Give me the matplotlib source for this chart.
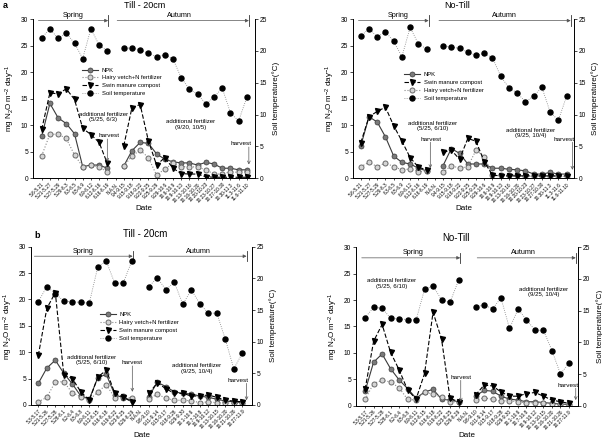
import numpy as np
import matplotlib
matplotlib.use("Agg")
import matplotlib.pyplot as plt

plt.rcParams['font.family'] = ['Liberation Sans', 'DejaVu Sans']
plt.rcParams['mathtext.default'] = 'regular'

nan = np.nan

# x labels
dates_a = ["5.6-5.21", "5.21-5.27", "5.27-5.29", "5.29-6.3", "6.3-6.5", "6.5-6.9",
           "6.9-6.12", "6.12-6.16", "6.16-6.19", "N.A.N.", "9.4-9.15", "9.15-9.18",
           "9.18-9.22", "9.22-9.25", "9.25-9.29", "9.29-10.6", "10.6-10.9", "10.9-10.13",
           "10.13-10.16", "10.16-10.20", "10.20-10.23", "10.23-10.27", "10.27-10.30",
           "10.30-11.3", "11.3-11.6", "11.6-11.10"]
dates_b = ["5.3-5.17", "5.21-5.26", "5.27-5.28", "5.28-6.1", "6.2-6.4", "6.5-6.8",
           "6.9-6.11", "6.12-6.15", "6.16-6.18", "6.19-6.22", "6.23-6.25", "6.26-6.29",
           "N.A.N.", "9.8-9.10", "9.11-9.14", "9.15-9.17", "9.18-9.28", "9.29-9.30",
           "10.1-10.6", "10.7-10.8", "10.9-10.12", "10.13-10.15", "10.16-10.20",
           "10.21-10.26", "10.27-11.9"]

# a: Till - 20cm (top left)
npk_a = [7.9, 14.1, 11.4, 10.3, 8.4, 2.2, 2.5, 2.5, 1.9, nan, 2.3, 5.2, 6.75, 6.6, 4.6, 3.6,
         3.1, 2.9, 2.9, 2.5, 3.0, 2.7, 1.9, 1.9, 1.6, 1.6]
hairy_a = [4.25, 8.3, 8.3, 7.5, 4.4, 2.2, 2.5, 2.1, 1.2, nan, 2.3, 4.2, 5.3, 3.9, 0.6, 1.75,
           2.8, 2.2, 2.2, 2.1, 1.6, 0.8, 0.8, 1.25, 1.1, 1.25]
swine_a = [9.2, 16.1, 15.9, 16.85, 14.85, 9.4, 8.25, 6.75, 2.8, nan, 6.1, 13.3, 13.9, 7.1,
           2.5, 3.9, 1.9, 0.9, 0.8, 0.8, 0.3, 0.2, 0.2, 0.2, 0.2, 0.2]
temp_a = [22.1, 23.4, 22.0, 22.8, 21.2, 18.8, 23.5, 20.9, 20.0, nan, 20.5, 20.4, 20.2, 19.6,
          19.1, 19.4, 18.75, 15.8, 14.0, 13.2, 11.7, 12.7, 14.2, 10.3, 9.0, 12.7]

# a: No-Till (top right)
npk_c = [6.1, 11.6, 10.6, 7.8, 4.2, 3.0, 2.7, 1.9, 1.4, nan, 2.4, 5.6, 4.7, 2.7, 2.7, 2.7,
         1.9, 1.9, 1.7, 1.6, 1.4, 0.8, 0.8, 1.1, 0.8, 0.8]
swine_c = [6.7, 11.6, 12.6, 13.4, 9.9, 7.0, 3.9, 2.1, 1.6, nan, 4.9, 5.3, 3.6, 7.5, 7.0, 3.1,
           0.6, 0.45, 0.45, 0.45, 0.45, 0.45, 0.45, 0.45, 0.45, 0.45]
hairy_c = [2.2, 3.0, 2.2, 2.9, 2.2, 1.6, 1.75, 1.25, 1.4, nan, 1.1, 2.4, 1.9, 2.2, 5.3, 4.1,
           0.6, 0.6, 0.6, 0.6, 0.4, 0.4, 0.4, 0.4, 0.4, 0.4]
temp_c = [22.3, 23.5, 22.2, 23.0, 21.5, 19.1, 23.7, 21.1, 20.3, nan, 20.8, 20.6, 20.4, 19.8,
          19.3, 19.6, 18.95, 16.0, 14.2, 13.4, 12.0, 12.9, 14.3, 10.4, 9.1, 12.9]

# b: Till - 20cm (bottom left)
npk_b = [4.1, 7.0, 8.5, 6.0, 4.0, 1.7, 1.1, 5.2, 5.8, 1.9, 1.4, 0.9, nan, 1.6, 4.3, 3.5, 2.5,
         2.2, 2.1, 1.7, 1.45, 1.1, 0.75, 0.6, 0.45]
hairy_b = [0.6, 1.45, 4.4, 4.4, 2.3, 1.6, 0.9, 2.5, 3.8, 1.4, 1.7, 1.25, nan, 1.1, 2.1, 1.25,
           0.9, 0.9, 0.8, 0.45, 0.6, 0.45, 0.45, 0.3, 0.3]
swine_b = [9.4, 18.3, 21.3, 5.7, 5.0, 2.5, 0.9, 5.3, 6.6, 2.2, 1.45, 0.6, nan, 2.2, 4.2, 3.1,
           2.2, 2.2, 1.7, 1.7, 1.9, 1.45, 0.9, 0.75, 0.6]
temp_b = [16.3, 18.7, 17.6, 16.4, 16.3, 16.2, 16.1, 21.8, 22.7, 19.2, 19.3, 22.75, nan, 18.7,
          20.1, 18.2, 19.4, 15.9, 18.2, 16.0, 14.5, 14.5, 10.4, 5.7, 8.2]

# b: No-Till (bottom right)
npk_d = [2.75, 8.25, 9.8, 7.0, 4.9, 3.25, 1.4, 2.6, 3.1, 1.25, 1.06, 0.75, nan, 1.8, 2.9,
         2.75, 1.8, 1.25, 1.06, 0.75, 0.75, 0.6, 0.45, 0.3, 0.25]
hairy_d = [1.2, 4.2, 4.8, 4.5, 3.4, 1.2, 1.06, 2.6, 2.2, 1.6, 0.75, 0.75, nan, 1.06, 1.5, 1.2,
           0.9, 0.94, 0.75, 0.56, 0.56, 0.6, 0.3, 0.25, 0.1]
swine_d = [3.1, 12.2, 15.4, 10.1, 6.8, 3.0, 1.25, 6.1, 17.7, 12.6, 1.4, 0.75, nan, 2.0, 3.9,
           3.75, 2.6, 1.8, 1.8, 2.3, 2.5, 1.8, 1.06, 0.75, 0.45]
temp_d = [13.9, 15.5, 15.4, 13.8, 13.7, 13.6, 13.5, 18.4, 18.9, 16.7, 16.3, 19.8, nan, 15.6,
          15.9, 15.3, 17.0, 12.2, 15.2, 13.6, 11.9, 11.9, 8.7, 5.0, 6.7]

LBL_NPK = "NPK"
LBL_HV = "Hairy vetch+N fertilizer"
LBL_SW = "Swin manure compost"
LBL_T = "Soil temperature"

panels = [
    dict(pos=[0.0548, 0.5975, 0.3688, 0.3595], dates=dates_a, xlim=(-0.06, 27.0),
         npk=npk_a, hairy=hairy_a, swine=swine_a, temp=temp_a,
         legend=[LBL_NPK, LBL_HV, LBL_SW, LBL_T], leg_at=(0.21, 0.71),
         arrow_y=29.7, spring=(0.6, 9.1, 4.85), autumn=(10.2, 26.25, 17.8),
         fert=[(8.5, 11.6, "additional fertilizer\n(5/25, 6/3)", "center"),
               (19.2, 10.15, "additional fertilizer\n(9/20, 10/5)", "center")],
         harvest=[(9.27, 8.0, 9.0, 7.4, 3.1), (25.3, 6.6, 26.25, 5.9, 2.6)]),
    dict(pos=[0.5864, 0.5975, 0.3671, 0.3595], dates=dates_a, xlim=(0.06, 26.9),
         npk=npk_c, hairy=hairy_c, swine=swine_c, temp=temp_c,
         legend=[LBL_NPK, LBL_SW, LBL_HV, LBL_T], leg_at=(0.22, 0.68),
         arrow_y=29.7, spring=(0.72, 9.25, 5.6), autumn=(10.5, 26.5, 18.4),
         fert=[(6.7, 9.9, "additional fertilizer\n(5/25, 6/10)", "left"),
               (21.6, 8.5, "additional fertilizer\n(9/25, 10/4)", "center")],
         harvest=[(9.5, 7.3, 9.45, 6.8, 1.9), (25.7, 7.3, 26.7, 6.8, 1.6)]),
    dict(pos=[0.0515, 0.0858, 0.3671, 0.3573], dates=dates_b, xlim=(0.14, 26.14),
         npk=npk_b, hairy=hairy_b, swine=swine_b, temp=temp_b,
         legend=[LBL_NPK, LBL_HV, LBL_SW, LBL_T], leg_at=(0.30, 0.60),
         arrow_y=28.2, spring=(0.53, 12.1, 6.3), autumn=(14.0, 25.5, 19.8),
         fert=[(7.3, 8.5, "additional fertilizer\n(5/25, 6/10)", "center"),
               (19.6, 6.9, "additional fertilizer\n(9/25, 10/4)", "center")],
         harvest=[(12.05, 8.0, 12.06, 7.4, 2.5), (24.5, 4.7, 25.5, 4.1, 0.9)]),
    dict(pos=[0.5914, 0.0842, 0.3688, 0.3576], dates=dates_b, xlim=(-0.07, 26.07),
         npk=npk_d, hairy=hairy_d, swine=swine_d, temp=temp_d,
         legend=None, leg_at=None,
         arrow_y=28.0, spring=(0.6, 12.2, 6.65), autumn=(14.2, 25.8, 19.6),
         fert=[(1.28, 23.15, "additional fertilizer\n(5/25, 6/10)", "left"),
               (22.0, 21.55, "additional fertilizer\n(9/25, 10/4)", "center")],
         harvest=[(12.3, 5.4, 12.26, 4.8, 0.75), (24.9, 3.9, 25.8, 3.3, 1.06)]),
]

fig = plt.figure(figsize=(6.02, 4.43), dpi=100)

for p in panels:
    ax = fig.add_axes(p["pos"])
    ax2 = ax.twinx()
    x = np.arange(1, len(p["dates"]) + 1)

    h_npk, = ax.plot(x, p["npk"], '-', color='#3a3a3a', lw=0.8, marker='o', ms=3.6,
                     mfc='#7a7a7a', mec='#3a3a3a', mew=0.5, label=LBL_NPK)
    h_hv, = ax.plot(x, p["hairy"], ':', color='#8a8a8a', lw=0.8, marker='o', ms=3.6,
                    mfc='#d4d4d4', mec='#6a6a6a', mew=0.7, label=LBL_HV)
    h_sw, = ax.plot(x, p["swine"], '--', color='black', lw=0.8, dashes=(4, 1.8),
                    marker='v', ms=3.6, mfc='black', mec='black', label=LBL_SW)
    h_t, = ax2.plot(x, p["temp"], ':', color='#808080', lw=0.6, marker='o', ms=3.6,
                    mfc='black', mec='black', label=LBL_T)

    ax.set_xlim(*p["xlim"])
    ax.set_ylim(0, 30)
    ax2.set_ylim(0, 25)
    ax.set_yticks(range(0, 31, 5))
    ax2.set_yticks(range(0, 26, 5))
    ax.set_xticks(x)
    ax.set_xticklabels(p["dates"], rotation=45, ha='right', rotation_mode='anchor',
                       fontsize=3.4)
    for a in (ax, ax2):
        a.spines['top'].set_visible(False)
        for s in a.spines.values():
            s.set_linewidth(0.6)
        a.tick_params(axis='y', labelsize=4.8, length=2, width=0.5, pad=1.5)
    ax.tick_params(axis='x', length=1.5, width=0.5, pad=1)

    ax.set_ylabel("mg N$_2$O m$^{-2}$ day$^{-1}$", fontsize=5.8, labelpad=3)
    ax2.set_ylabel("Soil temperature(°C)", fontsize=5.8, labelpad=4)
    ax.set_xlabel("Date", fontsize=5.8, labelpad=1)

    # season arrows
    y0 = p["arrow_y"]
    for (xs, xe, xt), name in ((p["spring"], "Spring"), (p["autumn"], "Autumn")):
        ax.annotate("", xy=(xe, y0), xytext=(xs, y0),
                    arrowprops=dict(arrowstyle='-|>', lw=0.5, color='#555555',
                                    mutation_scale=5, shrinkA=0, shrinkB=0))
        ax.plot([xe, xe], [y0 - 1.0, y0 + 1.0], color='#333333', lw=0.6, clip_on=False)
        ax.text(xt, y0 + 0.3, name, fontsize=5.2, ha='center', va='bottom')

    for xf, yf, txt, al in p["fert"]:
        ax.text(xf, yf, txt, fontsize=4.4, ha=al, va='center', multialignment='center',
                linespacing=1.1)

    for xt, yt, xa, ya0, ya1 in p["harvest"]:
        ax.text(xt, yt, "harvest", fontsize=4.6, ha='center', va='center')
        ax.annotate("", xy=(xa, ya1), xytext=(xa, ya0),
                    arrowprops=dict(arrowstyle='->', lw=0.5, color='#555555',
                                    mutation_scale=5, shrinkA=0, shrinkB=0))

    if p["legend"]:
        hmap = {LBL_NPK: h_npk, LBL_HV: h_hv, LBL_SW: h_sw, LBL_T: h_t}
        ax.legend([hmap[k] for k in p["legend"]], p["legend"], loc='upper left',
                  bbox_to_anchor=p["leg_at"], frameon=False, fontsize=4.2,
                  handlelength=2.8, labelspacing=0.45, borderaxespad=0,
                  handletextpad=0.6)

fig.text(0.005, 0.998, "a", fontsize=6.5, fontweight='bold', ha='left', va='top')
fig.text(0.24, 0.998, "Till - 20cm", fontsize=6.5, ha='center', va='top')
fig.text(0.76, 0.998, "No-Till", fontsize=6.5, ha='center', va='top')
fig.text(0.061, 0.468, "b", fontsize=6.5, fontweight='bold', ha='center', va='center')
fig.text(0.241, 0.472, "Till - 20cm", fontsize=7, ha='center', va='center')
fig.text(0.757, 0.463, "No-Till", fontsize=7, ha='center', va='center')

fig.savefig("out.png", dpi=100)
